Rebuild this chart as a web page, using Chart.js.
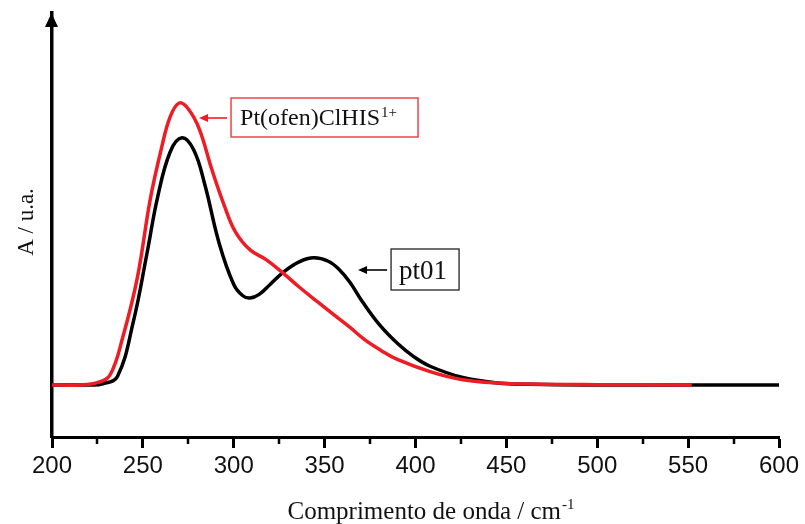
<!DOCTYPE html>
<html>
<head>
<meta charset="utf-8">
<script src="https://cdn.jsdelivr.net/npm/chart.js@4/dist/chart.umd.min.js"></script>
<style>
  html, body { margin: 0; padding: 0; background: #fff; }
  canvas { display: block; }
</style>
</head>
<body>
<canvas id="spectrum" width="805" height="524"></canvas>
<script>
// Pt(ofen)ClHIS1+ (red)
const redWavelength = [200, 215, 225, 232, 239, 247, 254, 260, 265, 270, 275, 281, 288, 295, 301, 309, 318, 327, 336, 346, 355, 364, 372, 381, 390, 408, 426, 445, 463, 500, 552];
const redAbs = [0, 0, 0.008, 0.036, 0.17, 0.38, 0.654, 0.83, 0.947, 0.996, 0.975, 0.905, 0.76, 0.63, 0.54, 0.477, 0.442, 0.396, 0.346, 0.294, 0.248, 0.203, 0.16, 0.122, 0.09, 0.047, 0.018, 0.007, 0.003, 0.001, 0];

// pt01 (black)
const blackWavelength = [200, 220, 228, 236, 244.6, 252.3, 258, 265, 271.5, 278, 284, 292, 300, 305, 309, 314, 320, 328, 336, 344, 352, 358, 364, 371, 380.5, 390, 399, 408, 426, 445, 463, 500, 600];
const blackAbs = [0, 0, 0.004, 0.03, 0.219, 0.466, 0.66, 0.823, 0.873, 0.83, 0.71, 0.5, 0.355, 0.315, 0.307, 0.32, 0.355, 0.402, 0.435, 0.449, 0.437, 0.408, 0.362, 0.292, 0.21, 0.147, 0.1, 0.066, 0.026, 0.007, 0.002, 0, 0];

const xMajorTicks = [200, 250, 300, 350, 400, 450, 500, 550, 600];
const xMinorTicks = [225, 275, 325, 375, 425, 475, 525, 575];

const redColor = '#ee1c24';
const boxRed = '#e8474b';

function toPoints(xs, ys) {
    return xs.map((x, i) => ({ x: x, y: ys[i] }));
}

function drawSup(ctx, x, baseline, text, supText, font, supFont, supRise) {
    ctx.font = font;
    ctx.fillText(text, x, baseline);
    const w = ctx.measureText(text).width;
    ctx.font = supFont;
    ctx.fillText(supText, x + w + 1, baseline - supRise);
    return w + 1 + ctx.measureText(supText).width;
}

function arrowLeft(ctx, fromX, toX, y, color) {
    ctx.strokeStyle = color;
    ctx.fillStyle = color;
    ctx.lineWidth = 1.6;
    ctx.beginPath();
    ctx.moveTo(fromX, y);
    ctx.lineTo(toX + 6, y);
    ctx.stroke();
    ctx.beginPath();
    ctx.moveTo(toX, y);
    ctx.lineTo(toX + 9, y - 4);
    ctx.lineTo(toX + 9, y + 4);
    ctx.closePath();
    ctx.fill();
}

// axis arrow, minor ticks, titles and the two labels
const decorPlugin = {
    id: 'decor',
    afterDraw(chart) {
        const ctx = chart.ctx;
        const xs = chart.scales.x;
        const ys = chart.scales.y;
        const area = chart.chartArea;
        ctx.save();

        // minor ticks
        ctx.strokeStyle = '#000';
        ctx.lineWidth = 2.5;
        xMinorTicks.forEach(v => {
            const px = Math.round(xs.getPixelForValue(v));
            ctx.beginPath();
            ctx.moveTo(px, area.bottom);
            ctx.lineTo(px, area.bottom + 7);
            ctx.stroke();
        });

        // arrow head on y axis
        const ax = area.left - 0.5;
        ctx.fillStyle = '#000';
        ctx.beginPath();
        ctx.moveTo(ax, area.top);
        ctx.lineTo(ax - 6.5, area.top + 14);
        ctx.lineTo(ax + 6.5, area.top + 14);
        ctx.closePath();
        ctx.fill();

        // x title
        ctx.fillStyle = '#111';
        ctx.textBaseline = 'alphabetic';
        ctx.textAlign = 'left';
        const titleFont = '25px "Liberation Serif", "Times New Roman", serif';
        const supFont = '15px "Liberation Serif", "Times New Roman", serif';
        const main = 'Comprimento de onda / cm';
        ctx.font = titleFont;
        const mw = ctx.measureText(main).width;
        ctx.font = supFont;
        const sw = ctx.measureText('-1').width;
        const tx = 431 - (mw + sw + 1) / 2;
        drawSup(ctx, tx, 519, main, '-1', titleFont, supFont, 10);

        // y title
        ctx.save();
        ctx.translate(27, 222);
        ctx.rotate(-Math.PI / 2);
        ctx.textAlign = 'center';
        ctx.textBaseline = 'middle';
        ctx.font = '23px "Liberation Serif", "Times New Roman", serif';
        ctx.fillText('A / u.a.', 0, 0);
        ctx.restore();

        // red label, arrow tip anchored in data units
        const rx = xs.getPixelForValue(280.9);
        const ry = ys.getPixelForValue(0.943);
        arrowLeft(ctx, rx + 28, rx, ry, redColor);
        ctx.strokeStyle = boxRed;
        ctx.lineWidth = 1.5;
        ctx.strokeRect(rx + 32, ry - 20, 187, 39);
        ctx.fillStyle = '#111';
        ctx.textAlign = 'left';
        drawSup(ctx, rx + 41, ry + 7, 'Pt(ofen)ClHIS', '1+',
            '24px "Liberation Serif", "Times New Roman", serif',
            '15px "Liberation Serif", "Times New Roman", serif', 8);

        // black label
        const bx = xs.getPixelForValue(368.4);
        const by = ys.getPixelForValue(0.406);
        arrowLeft(ctx, bx + 29, bx, by, '#000');
        ctx.strokeStyle = '#222';
        ctx.lineWidth = 1.3;
        ctx.strokeRect(bx + 33, by - 21, 68, 41);
        ctx.fillStyle = '#111';
        ctx.font = '27px "Liberation Serif", "Times New Roman", serif';
        ctx.fillText('pt01', bx + 41, by + 9);

        ctx.restore();
    }
};

new Chart(document.getElementById('spectrum'), {
    type: 'line',
    data: {
        datasets: [
            {
                label: 'Pt(ofen)ClHIS1+',
                data: toPoints(redWavelength, redAbs),
                borderColor: redColor,
                borderWidth: 3.5,
                pointRadius: 0,
                fill: false,
                tension: 0.4
            },
            {
                label: 'pt01',
                data: toPoints(blackWavelength, blackAbs),
                borderColor: '#000',
                borderWidth: 3.5,
                pointRadius: 0,
                fill: false,
                tension: 0.4
            }
        ]
    },
    options: {
        responsive: false,
        animation: false,
        devicePixelRatio: 1,
        layout: { padding: { top: 13, right: 26, left: 0, bottom: 0 } },
        plugins: {
            legend: { display: false },
            tooltip: { enabled: false }
        },
        scales: {
            x: {
                type: 'linear',
                min: 200,
                max: 600,
                afterBuildTicks: scale => {
                    scale.ticks = xMajorTicks.map(v => ({ value: v }));
                },
                afterFit: scale => { scale.height = 87; },
                ticks: {
                    autoSkip: false,
                    maxRotation: 0,
                    padding: 4,
                    color: '#111',
                    font: { family: '"Liberation Sans", Arial, sans-serif', size: 24 }
                },
                grid: {
                    drawOnChartArea: false,
                    drawTicks: true,
                    tickLength: 11,
                    tickWidth: 3,
                    tickColor: '#000'
                },
                border: { color: '#000', width: 3 }
            },
            y: {
                type: 'linear',
                min: -0.184,
                max: 1.314,
                afterFit: scale => { scale.width = 52; },
                ticks: { display: false },
                grid: { drawOnChartArea: false, drawTicks: false },
                border: { color: '#000', width: 3.5 }
            }
        }
    },
    plugins: [decorPlugin]
});
</script>
</body>
</html>
